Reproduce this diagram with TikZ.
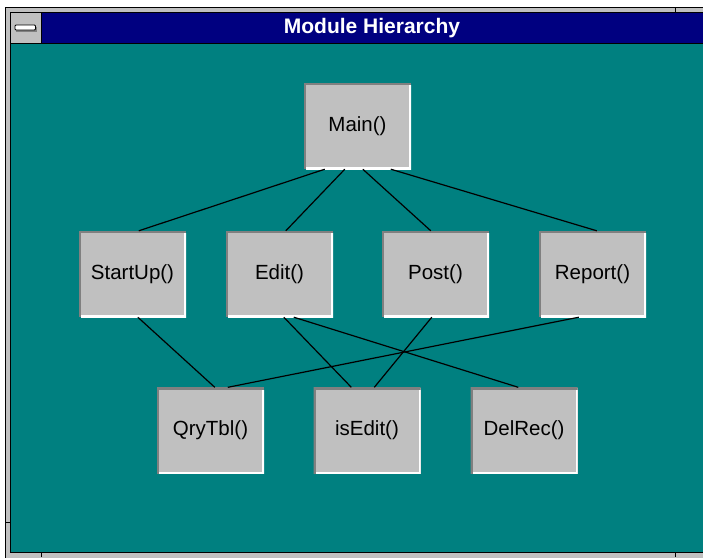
\documentclass[tikz,border=0pt]{standalone}
\usepackage{fontspec}
\setmainfont{Liberation Sans}
\usetikzlibrary{calc}
\definecolor{winteal}{HTML}{008080}
\definecolor{winblue}{HTML}{000080}
\definecolor{wingray}{HTML}{C0C0C0}
\definecolor{windark}{HTML}{808080}
\begin{document}
\begin{tikzpicture}[x=1pt,y=-1pt,
  modbox/.style={rectangle, minimum width=107pt, minimum height=86pt, inner sep=0pt,
    fill=wingray, font=\fontsize{20.5}{24}\selectfont,
    path picture={
      \draw[windark, line width=4.5pt] (path picture bounding box.south west) -- (path picture bounding box.north west) -- (path picture bounding box.north east);
      \draw[white, line width=4pt] ([yshift=-2pt]path picture bounding box.north east) -- (path picture bounding box.south east) -- ([xshift=2pt]path picture bounding box.south west);
    }},
  link/.style={draw=black, line width=1.2pt}]
\useasboundingbox (0,0) rectangle (703,557);
\clip (0,0) rectangle (703,557);
% window frame
\fill[white] (0,0) rectangle (703,557);
\filldraw[fill=wingray, draw=black, line width=1pt] (5,7) rectangle (720,570);
\fill[winblue] (41,12) rectangle (720,43);
\draw[black, line width=1pt] (10,12) rectangle (720,552);
\draw[black, line width=1pt] (41,12) -- (41,43);
\draw[black, line width=1.5pt] (10,43.5) -- (720,43.5);
\fill[winteal] (10.5,44.3) rectangle (720,551.5);
\draw[black, line width=1pt] (675,7) -- (675,12);
\draw[black, line width=1pt] (41,552) -- (41,557);
\draw[black, line width=1pt] (675,552) -- (675,557);
\draw[black, line width=1pt] (5,522) -- (10,522);
% system menu icon
\fill[windark] (16,26.5) rectangle (37,31.5);
\filldraw[fill=white, draw=black, line width=0.9pt, rounded corners=1pt] (15,25) rectangle (35.5,30);
\node[font=\bfseries\fontsize{21}{24}\selectfont, text=white] (title) at (372,28) {Module Hierarchy};
% modules
\node[modbox] (main) at (357.5,126) {Main()};
\node[modbox] (startup) at (132.5,274) {StartUp()};
\node[modbox] (edit) at (279.5,274) {Edit()};
\node[modbox] (post) at (435.5,274) {Post()};
\node[modbox] (report) at (592.5,274) {Report()};
\node[modbox] (qrytbl) at (210.5,430.5) {QryTbl()};
\node[modbox] (isedit) at (367,430.5) {isEdit()};
\node[modbox] (delrec) at (524,430.5) {DelRec()};
% connectors
\draw[link] ([xshift=21pt]main.south west) -- ([xshift=60pt]startup.north west);
\draw[link] ([xshift=41pt]main.south west) -- ([xshift=60pt]edit.north west);
\draw[link] ([xshift=59pt]main.south west) -- ([xshift=49pt]post.north west);
\draw[link] ([xshift=87pt]main.south west) -- ([xshift=58pt]report.north west);
\draw[link] ([xshift=59pt]startup.south west) -- ([xshift=58pt]qrytbl.north west);
\draw[link] ([xshift=58pt]edit.south west) -- ([xshift=38pt]isedit.north west);
\draw[link] ([xshift=68pt]edit.south west) -- ([xshift=48pt]delrec.north west);
\draw[link] ([xshift=50pt]post.south west) -- ([xshift=61pt]isedit.north west);
\draw[link] ([xshift=40pt]report.south west) -- ([xshift=71pt]qrytbl.north west);
\end{tikzpicture}
\end{document}
